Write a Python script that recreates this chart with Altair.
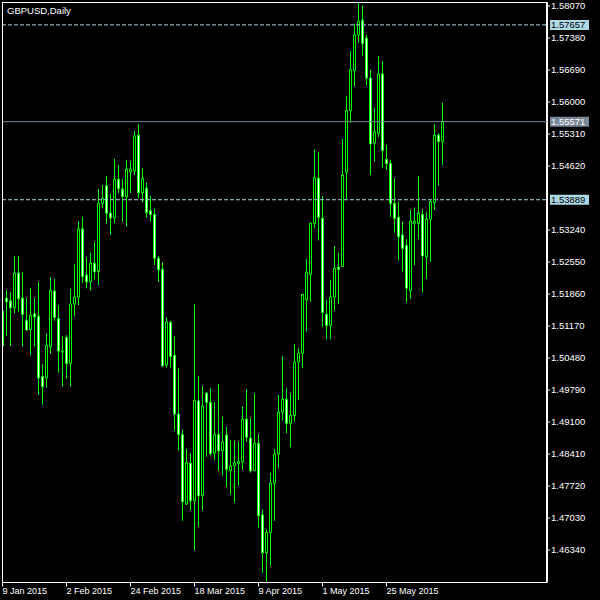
import altair as alt
import pandas as pd

# GBPUSD daily bars, 9 Jan 2015 - 12 Jun 2015
opens = [1.5074, 1.5177, 1.5171, 1.5156, 1.5231, 1.5177, 1.5128, 1.5109, 1.5143, 1.5138,
         1.5008, 1.5005, 1.5072, 1.5192, 1.5133, 1.5060, 1.5092, 1.5036, 1.5164, 1.5179,
         1.5326, 1.5227, 1.5212, 1.5252, 1.5234, 1.5381, 1.5419, 1.5360, 1.5350, 1.5433,
         1.5412, 1.5395, 1.5449, 1.5451, 1.5528, 1.5404, 1.5414, 1.5365, 1.5357, 1.5263,
         1.5239, 1.5033, 1.5125, 1.5054, 1.4927, 1.4883, 1.4733, 1.4821, 1.4740, 1.4955,
         1.4751, 1.4972, 1.4952, 1.4843, 1.4883, 1.4848, 1.4882, 1.4805, 1.4816, 1.4820,
         1.4824, 1.4916, 1.4875, 1.4805, 1.4864, 1.4710, 1.4628, 1.4672, 1.4778, 1.4841,
         1.4931, 1.4959, 1.4907, 1.4924, 1.5039, 1.5058, 1.5173, 1.5228, 1.5338, 1.5435,
         1.5349, 1.5142, 1.5118, 1.5179, 1.5244, 1.5245, 1.5448, 1.5581, 1.5667, 1.5744,
         1.5776, 1.5737, 1.5651, 1.5511, 1.5532, 1.5660, 1.5476, 1.5467, 1.5381, 1.5351,
         1.5313, 1.5290, 1.5193, 1.5338, 1.5338, 1.5357, 1.5266, 1.5347, 1.5383, 1.5528,
         1.5514]
highs = [1.5173, 1.5194, 1.5190, 1.5268, 1.5268, 1.5233, 1.5177, 1.5199, 1.5177, 1.5212,
         1.5035, 1.5101, 1.5222, 1.5218, 1.5162, 1.5095, 1.5097, 1.5197, 1.5250, 1.5343,
         1.5352, 1.5265, 1.5275, 1.5298, 1.5412, 1.5421, 1.5440, 1.5401, 1.5477, 1.5464,
         1.5434, 1.5475, 1.5472, 1.5537, 1.5552, 1.5457, 1.5426, 1.5397, 1.5370, 1.5268,
         1.5254, 1.5136, 1.5128, 1.5095, 1.5026, 1.4894, 1.4852, 1.4843, 1.5164, 1.5009,
         1.4988, 1.4975, 1.4983, 1.4953, 1.4992, 1.4921, 1.4899, 1.4871, 1.4870, 1.4867,
         1.4944, 1.4981, 1.4919, 1.4972, 1.4884, 1.4722, 1.4679, 1.4801, 1.4852, 1.4968,
         1.5052, 1.4983, 1.4972, 1.5078, 1.5069, 1.5186, 1.5261, 1.5340, 1.5498, 1.5492,
         1.5397, 1.5173, 1.5216, 1.5289, 1.5275, 1.5520, 1.5612, 1.5709, 1.5768, 1.5813,
         1.5808, 1.5744, 1.5669, 1.5587, 1.5699, 1.5688, 1.5507, 1.5475, 1.5435, 1.5385,
         1.5342, 1.5304, 1.5367, 1.5372, 1.5440, 1.5369, 1.5362, 1.5389, 1.5552, 1.5532,
         1.5598]
lows = [1.5065, 1.5095, 1.5074, 1.5144, 1.5148, 1.5072, 1.5107, 1.5054, 1.5072, 1.4968,
        1.4947, 1.4984, 1.5057, 1.5128, 1.5016, 1.4986, 1.5003, 1.4986, 1.5137, 1.5162,
        1.5209, 1.5198, 1.5193, 1.5217, 1.5205, 1.5370, 1.5337, 1.5313, 1.5338, 1.5403,
        1.5342, 1.5331, 1.5403, 1.5442, 1.5392, 1.5383, 1.5350, 1.5342, 1.5248, 1.5212,
        1.5029, 1.5027, 1.5027, 1.4891, 1.4848, 1.4697, 1.4731, 1.4720, 1.4633, 1.4684,
        1.4719, 1.4835, 1.4838, 1.4828, 1.4805, 1.4794, 1.4770, 1.4753, 1.4736, 1.4773,
        1.4807, 1.4867, 1.4801, 1.4805, 1.4682, 1.4585, 1.4566, 1.4600, 1.4697, 1.4810,
        1.4913, 1.4886, 1.4855, 1.4911, 1.4957, 1.5026, 1.5105, 1.5169, 1.5327, 1.5301,
        1.5114, 1.5088, 1.5088, 1.5150, 1.5164, 1.5244, 1.5391, 1.5555, 1.5633, 1.5727,
        1.5699, 1.5635, 1.5442, 1.5471, 1.5524, 1.5458, 1.5453, 1.5352, 1.5318, 1.5258,
        1.5234, 1.5167, 1.5175, 1.5248, 1.5304, 1.5189, 1.5218, 1.5255, 1.5367, 1.5419,
        1.5464]
closes = [1.5149, 1.5169, 1.5156, 1.5231, 1.5176, 1.5142, 1.5108, 1.5140, 1.5136, 1.5005,
          1.4986, 1.5075, 1.5194, 1.5135, 1.5063, 1.5063, 1.5036, 1.5164, 1.5179, 1.5326,
          1.5223, 1.5212, 1.5252, 1.5234, 1.5381, 1.5392, 1.5360, 1.5350, 1.5433, 1.5413,
          1.5396, 1.5455, 1.5455, 1.5526, 1.5404, 1.5435, 1.5361, 1.5357, 1.5263, 1.5238,
          1.5031, 1.5126, 1.5051, 1.4927, 1.4883, 1.4738, 1.4823, 1.4740, 1.4957, 1.4751,
          1.4944, 1.4952, 1.4841, 1.4883, 1.4848, 1.4867, 1.4808, 1.4815, 1.4822, 1.4825,
          1.4916, 1.4877, 1.4805, 1.4864, 1.4708, 1.4628, 1.4672, 1.4778, 1.4841, 1.4931,
          1.4959, 1.4907, 1.4924, 1.5039, 1.5058, 1.5185, 1.5233, 1.5338, 1.5437, 1.5351,
          1.5146, 1.5118, 1.5179, 1.5241, 1.5239, 1.5442, 1.5581, 1.5669, 1.5744, 1.5773,
          1.5726, 1.5651, 1.5509, 1.5535, 1.5660, 1.5495, 1.5467, 1.5381, 1.5349, 1.5309,
          1.5284, 1.5198, 1.5343, 1.5342, 1.5360, 1.5268, 1.5347, 1.5385, 1.5528, 1.5514,
          1.55571]

# date axis: one tick every 16 bars
tick_bars = [0, 16, 32, 48, 64, 80, 96]
tick_labels = ["9 Jan 2015", "2 Feb 2015", "24 Feb 2015", "18 Mar 2015",
               "9 Apr 2015", "1 May 2015", "25 May 2015"]

# price scale ticks
price_ticks = [1.46340, 1.47030, 1.47720, 1.48410, 1.49100, 1.49790, 1.50480,
               1.51170, 1.51860, 1.52550, 1.53240, 1.54620, 1.55310,
               1.56000, 1.56690, 1.57380, 1.58070]

# horizontal levels
dashed_levels = [1.57657, 1.53889]
bid_level = [1.55571]

W, H = 545, 580
PRICE_MIN, PRICE_MAX = 1.456515, 1.58150
FONT = "Liberation Sans"
GREEN = "#00ff00"
LEVEL_BLUE = "#add8e6"
SLATE = "#778899"

dates = pd.bdate_range("2015-01-09", periods=len(opens))
bars = pd.DataFrame({
    "bar": list(range(len(opens))),
    "date": dates.strftime("%Y-%m-%d"),
    "open": opens, "high": highs, "low": lows, "close": closes,
})
bars["left"] = bars["bar"] - 0.25
bars["right"] = bars["bar"] + 0.25

xscale = alt.Scale(domain=[0, W / 4], nice=False, zero=False)
yscale = alt.Scale(domain=[PRICE_MIN, PRICE_MAX], nice=False, zero=False)

label_js = "[" + ",".join("'" + s + "'" for s in tick_labels) + "]"
x_axis = alt.Axis(values=tick_bars, labelExpr=label_js + "[round(datum.value / 16)]",
                  title=None, grid=False, labelAlign="left", labelBaseline="top",
                  labelPadding=0, tickSize=4, labelFlush=False, labelOverlap=False,
                  domainColor="white", tickColor="white", labelColor="white",
                  labelFont=FONT, labelFontSize=9)
y_axis = alt.Axis(orient="right", values=price_ticks, format=".5f", title=None,
                  grid=False, translate=0, domainWidth=2, tickSize=3, labelPadding=1,
                  domainColor="white", tickColor="white", labelColor="white",
                  labelFont=FONT, labelFontSize=9.5, labelFlush=False, labelOverlap=False)


def xenc(field):
    return alt.X(field, type="quantitative", scale=xscale, axis=x_axis)


def yenc(field):
    return alt.Y(field, type="quantitative", scale=yscale, axis=y_axis)


base = alt.Chart(bars)

wicks = base.mark_rule(color=GREEN, strokeWidth=1, xOffset=0.5, clip=True).encode(
    x=xenc("bar"),
    y=yenc("low"),
    y2="high:Q",
)

bodies = base.mark_rect(stroke=GREEN, strokeWidth=1, xOffset=0.5, x2Offset=0.5,
                        clip=True).encode(
    x=xenc("left"),
    x2="right:Q",
    y=yenc("open"),
    y2="close:Q",
    fill=alt.condition("datum.close < datum.open", alt.value("#ffffff"),
                       alt.value("#000000")),
)

dashed = alt.Chart(pd.DataFrame({"level": dashed_levels})).mark_rule(
    color=LEVEL_BLUE, strokeWidth=1, strokeDash=[4, 2]).encode(
    x=alt.value(0), x2=alt.value(W),
    y=yenc("level"),
)
bid = alt.Chart(pd.DataFrame({"level": bid_level})).mark_rule(
    color=SLATE, strokeWidth=1).encode(
    x=alt.value(0), x2=alt.value(W),
    y=yenc("level"),
)

# price tags on the scale
tags = pd.DataFrame({
    "level": dashed_levels + bid_level,
    "text": [f"{v:.5f}" for v in dashed_levels + bid_level],
    "bg": [LEVEL_BLUE, LEVEL_BLUE, SLATE],
    "fg": ["#000000", "#000000", "#ffffff"],
})
tag_box = alt.Chart(tags).mark_rect(yOffset=-5, y2Offset=5, clip=False).encode(
    x=alt.value(W + 3), x2=alt.value(W + 42),
    y=yenc("level"), y2="level:Q",
    fill=alt.Fill("bg:N", scale=None, legend=None),
)
tag_text = alt.Chart(tags).mark_text(align="left", baseline="middle", font=FONT,
                                     fontSize=9.5, clip=False).encode(
    x=alt.value(W + 4),
    y=yenc("level"),
    text="text:N",
    color=alt.Color("fg:N", scale=None, legend=None),
)

# window frame (left and top edges)
frame_left = alt.Chart(pd.DataFrame({"k": [0]})).mark_rule(color="white", strokeWidth=1).encode(
    x=alt.value(0.5), y=alt.value(0), y2=alt.value(H))
frame_top = alt.Chart(pd.DataFrame({"k": [0]})).mark_rule(color="white", strokeWidth=1).encode(
    x=alt.value(0), x2=alt.value(W), y=alt.value(0.5))

caption = alt.Chart(pd.DataFrame({"t": ["GBPUSD,Daily"]})).mark_text(
    align="left", baseline="alphabetic", font=FONT, fontSize=9.5, color="white").encode(
    x=alt.value(5), y=alt.value(11.5), text="t:N")

chart = alt.layer(
    wicks, bodies, dashed, bid, tag_box, tag_text, frame_left, frame_top, caption
).properties(
    width=W, height=H,
    autosize=alt.AutoSizeParams(type="none"),
    padding={"left": 2, "top": 2, "right": 53, "bottom": 18},
    background="#000000",
).configure_view(stroke=None)

chart.save("out.html", embed_options={"renderer": "svg", "actions": False})
